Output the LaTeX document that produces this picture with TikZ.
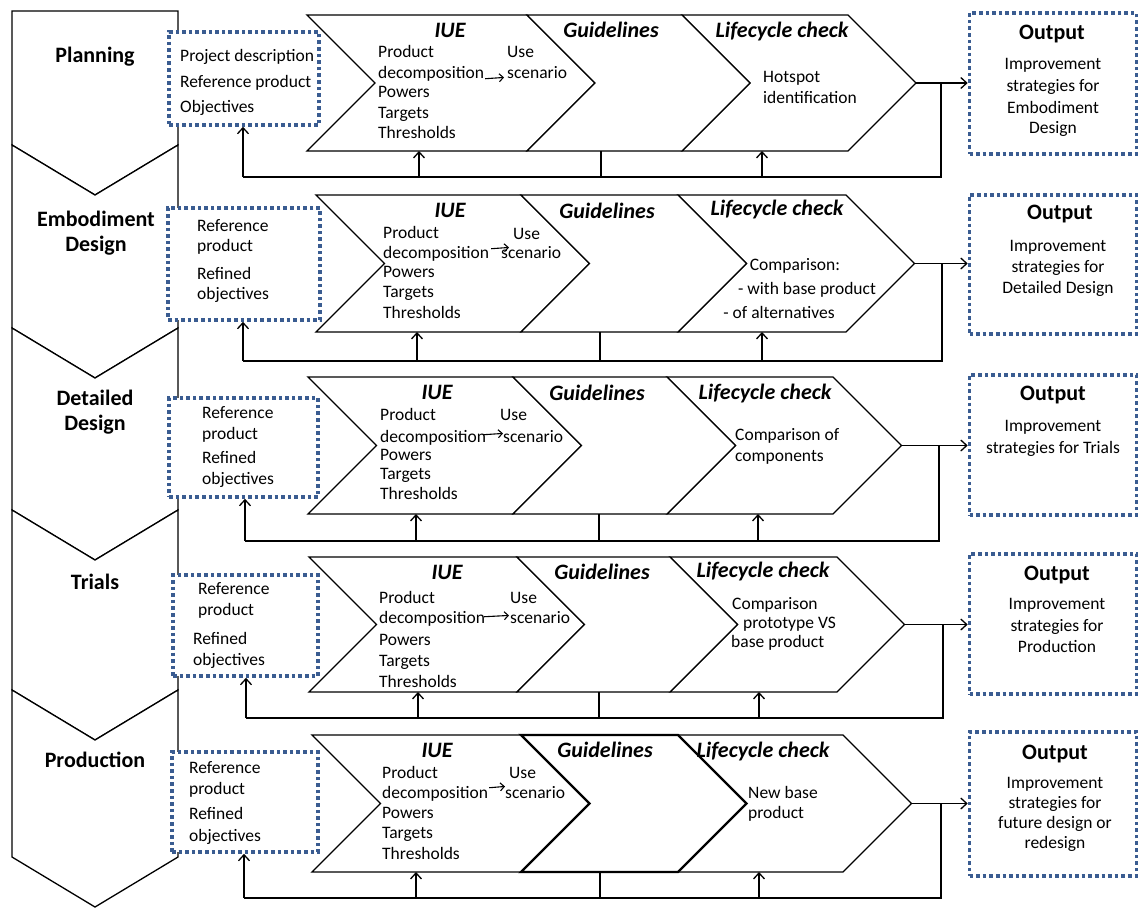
\documentclass[tikz,border=0pt]{standalone}
\usepackage{fontspec}
\setmainfont{Carlito}
\usetikzlibrary{arrows.meta}
\definecolor{dotblue}{RGB}{58,92,145}
\newcommand\mylines[4]{\foreach \tx/\ty [count=\ti] in {#4}{\node[body,anchor=#3] (#1\ti) at (#2,\ty) {\tx};}}
\begin{document}
\begin{tikzpicture}[x=1pt,y=-1pt,
  body/.style={font=\fontsize{17.5}{20}\selectfont, inner sep=0pt, anchor=mid, yshift=-4pt},
  head/.style={font=\fontsize{22}{26}\selectfont\bfseries, inner sep=0pt, anchor=mid, yshift=-5pt},
  chhead/.style={font=\fontsize{22}{26}\selectfont\bfseries\itshape, inner sep=0pt, anchor=mid, yshift=-5pt},
  colbox/.style={draw=black, fill=white, line width=1.3pt},
  chev/.style={draw=black, fill=white, line width=1.3pt},
  dotbox/.style={draw=dotblue, fill=white, line width=3.6pt, dash pattern=on 3.6pt off 3pt, inner sep=0pt},
  link/.style={draw=black, line width=1.3pt},
  arr/.style={link, -{Straight Barb[length=6pt,width=11pt]}},
  sarr/.style={draw=black, line width=1.1pt, -{Straight Barb[length=4pt,width=8pt]}}
]
\useasboundingbox (0,0) rectangle (1147,908);

% left phase column
\path[colbox] (12,11) -- (178,11) -- (178,145) -- (95,195) -- (12,145) -- cycle;
\foreach \sa/\sb in {145/328,328/510,510/690,690/857}{
  \path[colbox] (12,\sa) -- (95,{\sa+50}) -- (178,\sa) -- (178,\sb) -- (95,{\sb+50}) -- (12,\sb) -- cycle;
}

% rows
\foreach \rw/\rT/\rB/\rF/\rL/\rA/\rC/\rR/\rV/\xa/\xb/\ya/\yb/\oa/\ob/\pin/\piu/\pgl/\plc/\gw in {
 1/15/151/177/307/527/682/848/941/169/319/32/125/13/154/243/419/601/762/1.3,
 2/195/332/361/316/521/678/846/942/168/320/208/320/195/334/243/417/600/762/1.3,
 3/377/514/541/308/513/667/833/939/169/318/398/497/375/515/245/416/599/758/1.3,
 4/557/692/718/309/517/670/837/943/173/318/575/676/554/694/246/418/599/759/1.3,
 5/735/872/898/312/521/678/843/941/172/318/752/852/732/876/244/416/600/759/2.3}
{
 \pgfmathsetmacro\mm{(\rT+\rB)/2}
 \pgfmathsetmacro\hh{(\rB-\rT)/2}
 \pgfmathsetmacro\ix{(\xa+\xb)/2}
 \pgfmathsetmacro\iy{(\ya+\yb)/2}
 \pgfmathsetmacro\iw{\xb-\xa}
 \pgfmathsetmacro\ih{\yb-\ya}
 \pgfmathsetmacro\oy{(\oa+\ob)/2}
 \pgfmathsetmacro\oh{\ob-\oa}
 \node[dotbox, minimum width=\iw pt, minimum height=\ih pt] (in\rw) at (\ix,\iy) {};
 \node[dotbox, minimum width=167pt, minimum height=\oh pt] (out\rw) at (1053,\oy) {};
 \draw[chev] (\rL,\rT) -- (\rA,\rT) -- ({\rA+\hh},\mm) -- (\rA,\rB) -- (\rL,\rB) -- ({\rL+\hh},\mm) -- cycle;
 \draw[chev] (\rC,\rT) -- (\rR,\rT) -- ({\rR+\hh},\mm) -- (\rR,\rB) -- (\rC,\rB) -- ({\rC+\hh},\mm) -- cycle;
 \draw[chev, line width=\gw pt] (\rA,\rT) -- (\rC,\rT) -- ({\rC+\hh},\mm) -- (\rC,\rB) -- (\rA,\rB) -- ({\rA+\hh},\mm) -- cycle;
 \coordinate (tip\rw) at ({\rR+\hh},\mm);
 \coordinate (vt\rw) at (\rV,\mm);
 \coordinate (vb\rw) at (\rV,\rF);
 \coordinate (fin\rw) at (\pin,\rF);
 \coordinate (fu\rw) at (\piu,\rF);
 \coordinate (fg\rw) at (\pgl,\rF);
 \coordinate (fc\rw) at (\plc,\rF);
 \coordinate (bu\rw) at (\piu,\rB);
 \coordinate (bg\rw) at (\pgl,\rB);
 \coordinate (bc\rw) at (\plc,\rB);
 \draw[arr] (tip\rw) -- (tip\rw -| out\rw.west);
 \draw[link] (vt\rw) -- (vb\rw) -- (fin\rw);
 \draw[arr] (fin\rw) -- (fin\rw |- in\rw.south);
 \draw[arr] (fu\rw) -- (bu\rw);
 \draw[link] (fg\rw) -- (bg\rw);
 \draw[arr] (fc\rw) -- (bc\rw);
}

% phase labels
\node[head] (lab1) at (95,55) {Planning};
\node[head] (lab2a) at (96,219) {Embodiment};
\node[head] (lab2b) at (96,244) {Design};
\node[head] (lab3a) at (95,398) {Detailed};
\node[head] (lab3b) at (95,423) {Design};
\node[head] (lab4) at (95,582) {Trials};
\node[head] (lab5) at (95,760) {Production};

% ---------- row 1 ----------
\node[chhead] (iue1) at (450,30) {IUE};
\node[chhead] (gl1) at (611,30) {Guidelines};
\node[chhead] (lc1) at (782,30) {Lifecycle check};
\mylines{ina1-}{180}{mid west}{Project description/55,Reference product/81,Objectives/106}
\mylines{iueb1-}{378}{mid west}{Product/51,decomposition/72,Powers/91,Targets/112,Thresholds/132}
\mylines{use1-}{507}{mid west}{Use/51,scenario/72}
\draw[sarr] ([shift={(1,5)}]iueb1-2.east) -- ([shift={(-3,5)}]use1-2.west);
\mylines{lcb1-}{763}{mid west}{Hotspot/76,identification/97}
\node[head] (outh1) at (1052,32) {Output};
\mylines{outb1-}{1053}{mid}{Improvement/63,strategies for/85,Embodiment/107,Design/127}

% ---------- row 2 ----------
\node[chhead] (iue2) at (450,210) {IUE};
\node[chhead] (gl2) at (607,211) {Guidelines};
\node[chhead] (lc2) at (777,208) {Lifecycle check};
\mylines{ina2-}{197}{mid west}{Reference/225,product/245,Refined/273,objectives/293}
\mylines{iueb2-}{383}{mid west}{Product/232,decomposition/252,Powers/271,Targets/291,Thresholds/312}
\node[body,anchor=mid west] (use2-1) at (513,233) {Use};
\node[body,anchor=mid west] (use2-2) at (501,252) {scenario};
\draw[sarr] ([shift={(2,-5)}]iueb2-2.east) -- ([shift={(8,-5)}]use2-2.west);
\node[body] (lcb2-1) at (795,264) {Comparison:};
\node[body] (lcb2-2) at (807,288) {- with base product};
\node[body] (lcb2-3) at (779,312) {- of alternatives};
\node[head] (outh2) at (1060,212) {Output};
\mylines{outb2-}{1058}{mid}{Improvement/245,strategies for/266,Detailed Design/287}

% ---------- row 3 ----------
\node[chhead] (iue3) at (437,392) {IUE};
\node[chhead] (gl3) at (597,393) {Guidelines};
\node[chhead] (lc3) at (765,392) {Lifecycle check};
\mylines{ina3-}{202}{mid west}{Reference/412,product/433,Refined/457,objectives/478}
\mylines{iueb3-}{380}{mid west}{Product/414,decomposition/436,Powers/454,Targets/473,Thresholds/493}
\node[body,anchor=mid west] (use3-1) at (500,414) {Use};
\node[body,anchor=mid west] (use3-2) at (503,436) {scenario};
\draw[sarr] ([shift={(-3,-3)}]iueb3-2.east) -- ([shift={(0,-3)}]use3-2.west);
\mylines{lcb3-}{735}{mid west}{Comparison of/434,components/455}
\node[head] (outh3) at (1053,393) {Output};
\mylines{outb3-}{1053}{mid}{Improvement/425,strategies for Trials/447}

% ---------- row 4 ----------
\node[chhead] (iue4) at (447,572) {IUE};
\node[chhead] (gl4) at (602,572) {Guidelines};
\node[chhead] (lc4) at (763,570) {Lifecycle check};
\node[body,anchor=mid west] (ina4-1) at (198,588) {Reference};
\node[body,anchor=mid west] (ina4-2) at (198,609) {product};
\node[body,anchor=mid west] (ina4-3) at (193,638) {Refined};
\node[body,anchor=mid west] (ina4-4) at (193,659) {objectives};
\mylines{iueb4-}{379}{mid west}{Product/597,decomposition/617,Powers/639,Targets/660,Thresholds/681}
\node[body,anchor=mid west] (use4-1) at (510,597) {Use};
\node[body,anchor=mid west] (use4-2) at (510,617) {scenario};
\draw[sarr] ([shift={(-1,-2)}]iueb4-2.east) -- ([shift={(-1,-2)}]use4-2.west);
\node[body,anchor=mid west] (lcb4-1) at (732,603) {Comparison};
\node[body,anchor=mid west] (lcb4-2) at (743,622) {prototype VS};
\node[body,anchor=mid west] (lcb4-3) at (731,641) {base product};
\node[head] (outh4) at (1057,573) {Output};
\mylines{outb4-}{1057}{mid}{Improvement/603,strategies for/625,Production/646}

% ---------- row 5 ----------
\node[chhead] (iue5) at (437,750) {IUE};
\node[chhead] (gl5) at (605,750) {Guidelines};
\node[chhead] (lc5) at (763,750) {Lifecycle check};
\mylines{ina5-}{189}{mid west}{Reference/767,product/788,Refined/813,objectives/835}
\mylines{iueb5-}{382}{mid west}{Product/772,decomposition/792,Powers/812,Targets/832,Thresholds/853}
\node[body,anchor=mid west] (use5-1) at (509,772) {Use};
\node[body,anchor=mid west] (use5-2) at (505,792) {scenario};
\draw[sarr] ([shift={(1,-6)}]iueb5-2.east) -- ([shift={(0,-6)}]use5-2.west);
\mylines{lcb5-}{748}{mid west}{New base/792,product/812}
\node[head] (outh5) at (1055,752) {Output};
\mylines{outb5-}{1055}{mid}{Improvement/782,strategies for/802,future design or/822,redesign/842}
\end{tikzpicture}
\end{document}
